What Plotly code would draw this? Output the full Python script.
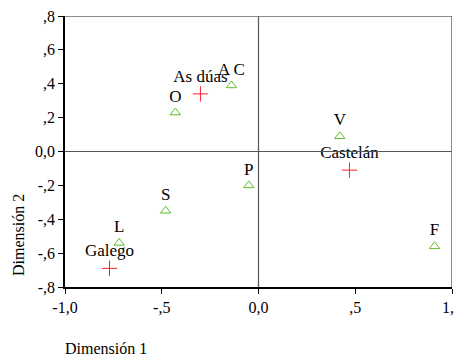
import plotly.graph_objects as go

# category points (triangles)
cat_labels = ["A C", "O", "V", "P", "S", "L", "F"]
cat_x = [-0.14, -0.43, 0.42, -0.05, -0.48, -0.72, 0.91]
cat_y = [0.39, 0.23, 0.09, -0.20, -0.35, -0.54, -0.56]

# group points (crosses)
grp_labels = ["As dúas", "Castelán", "Galego"]
grp_x = [-0.30, 0.47, -0.77]
grp_y = [0.34, -0.11, -0.69]

x_ticks = [-1.0, -0.5, 0.0, 0.5, 1.0]
x_ticktext = ["-1,0", "-,5", "0,0", ",5", "1,0"]
y_ticks = [-0.8, -0.6, -0.4, -0.2, 0.0, 0.2, 0.4, 0.6, 0.8]
y_ticktext = ["-,8", "-,6", "-,4", "-,2", "0,0", ",2", ",4", ",6", ",8"]

font = "Liberation Serif"

fig = go.Figure()

fig.add_trace(go.Scatter(
    x=cat_x, y=cat_y, mode="markers+text", text=cat_labels,
    textposition="top center",
    textfont=dict(family=font, size=17, color="black"),
    marker=dict(symbol="triangle-up-open", size=9, color="#5cbf2a", line=dict(width=1)),
    showlegend=False,
))

fig.add_trace(go.Scatter(
    x=grp_x, y=grp_y, mode="markers+text", text=grp_labels,
    textposition="top center",
    textfont=dict(family=font, size=17, color="black"),
    marker=dict(symbol="cross-thin-open", size=11, color="#ff2030", line=dict(width=1, color="#ff2030")),
    showlegend=False,
))

# reference lines through the origin
fig.add_shape(type="line", x0=0, x1=0, y0=-0.8, y1=0.8, line=dict(color="#555555", width=1.2))
fig.add_shape(type="line", x0=-1, x1=1, y0=0, y1=0, line=dict(color="#555555", width=1.2))
# top/right frame
fig.add_shape(type="line", x0=-1, x1=1, y0=0.8, y1=0.8, line=dict(color="#666666", width=1.5))
fig.add_shape(type="line", x0=1, x1=1, y0=-0.8, y1=0.8, line=dict(color="#666666", width=1.5))

fig.update_xaxes(
    range=[-1.0, 1.0], tickvals=x_ticks, ticktext=x_ticktext, automargin=False,
    ticklabeloverflow="allow",
    showgrid=False, zeroline=False, showline=True, linecolor="black", linewidth=1.5,
    ticks="outside", ticklen=5, tickcolor="black",
    tickfont=dict(family=font, size=16, color="black"),
)
fig.update_yaxes(
    range=[-0.8, 0.8], tickvals=y_ticks, ticktext=y_ticktext, automargin=False,
    ticklabeloverflow="allow",
    showgrid=False, zeroline=False, showline=True, linecolor="black", linewidth=1.5,
    ticks="outside", ticklen=5, tickcolor="black",
    tickfont=dict(family=font, size=16, color="black"),
)

fig.add_annotation(
    text="Dimensión 1", xref="paper", yref="paper", x=-0.005, y=-0.19,
    xanchor="left", yanchor="top", showarrow=False,
    font=dict(family=font, size=16, color="black"),
)
fig.add_annotation(
    text="Dimensión 2", xref="paper", yref="paper", x=-0.12, y=0.19,
    xanchor="center", yanchor="middle", textangle=-90, showarrow=False,
    font=dict(family=font, size=16, color="black"),
)

# page body adds an 8px offset, so margins are shifted to compensate
fig.update_layout(
    width=462, height=359,
    margin=dict(l=57, r=18, t=8, b=80),
    plot_bgcolor="white", paper_bgcolor="white",
)

fig.write_html("out.html")
